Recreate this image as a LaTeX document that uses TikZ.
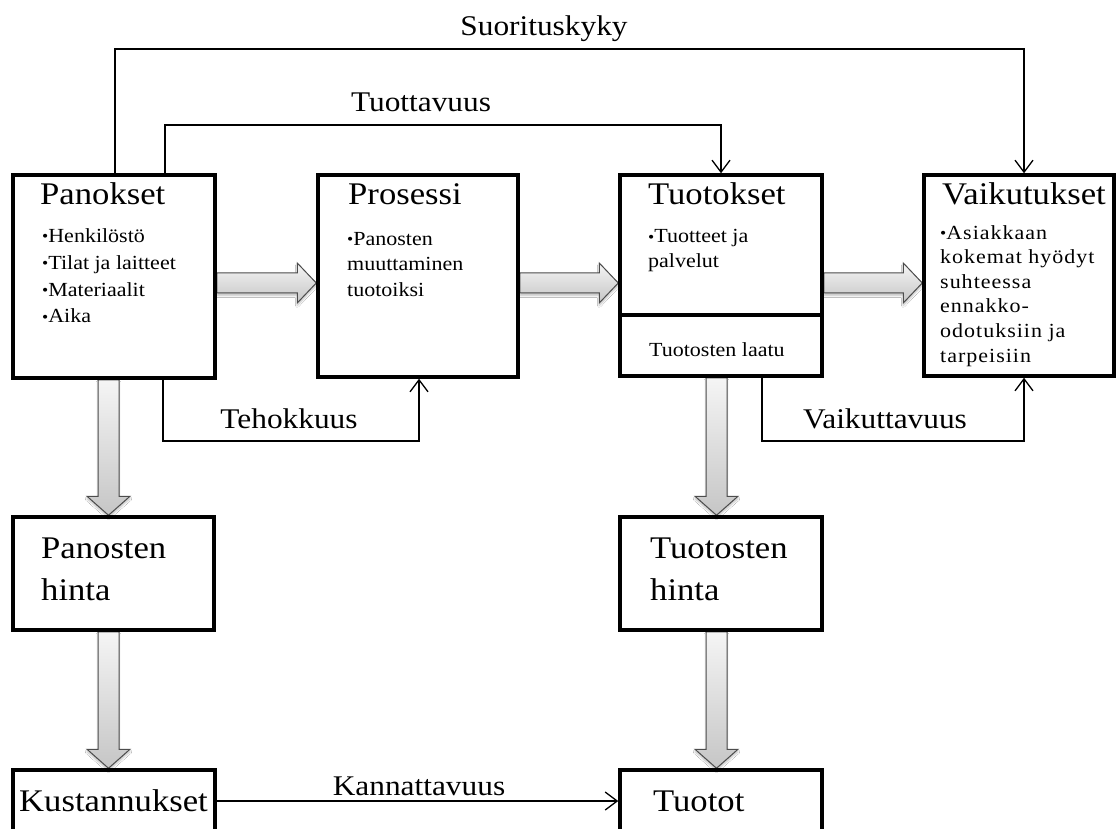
\documentclass[tikz,border=0pt]{standalone}
\usepackage{fontspec}
\usepackage{graphicx}
\setmainfont[FakeStretch=1.1]{Liberation Serif}
\newfontfamily\spacedfont[FakeStretch=1.1,LetterSpace=5]{Liberation Serif}
\usetikzlibrary{arrows.meta,calc,shadows.blur}
\pgfdeclarelayer{bg}
\pgfsetlayers{bg,main}
\newcommand{\bu}{\raisebox{0.02em}{\scalebox{0.8}{•}}}
\begin{document}
\begin{tikzpicture}[x=1pt,y=-1pt,
  box/.style={draw,line width=3.5pt,inner sep=0pt},
  title/.style={anchor=base west,inner sep=0pt,align=left,font=\fontsize{31.5}{42}\selectfont},
  body/.style={anchor=base west,inner sep=0pt,align=left,font=\fontsize{20}{26}\selectfont},
  lbl/.style={anchor=base,inner sep=0pt,font=\fontsize{28.5}{32}\selectfont},
  conn/.style={line width=1.3pt,-{Straight Barb[length=12pt,width=18pt]}},
  blk/.style={draw=black!70,line width=1pt,top color=gray!8,bottom color=gray!45,
    blur shadow={shadow xshift=0pt,shadow yshift=-2.5pt,shadow blur steps=6,shadow opacity=25}}]
\clip (0,0) rectangle (1117,829);
% boxes
\node[box,minimum width=202pt,minimum height=203pt] (pan) at (114,276.5) {};
\node[box,minimum width=200pt,minimum height=202pt] (pro) at (418,276) {};
\node[box,minimum width=202pt,minimum height=140pt] (tuo) at (721,245) {};
\node[box,minimum width=202pt,minimum height=61pt] (laatu) at (721,345.5) {};
\node[box,minimum width=190pt,minimum height=201pt] (vai) at (1019,275.5) {};
\node[box,minimum width=201pt,minimum height=113pt] (ph) at (113.5,573.5) {};
\node[box,minimum width=202pt,minimum height=113pt] (th) at (721,573.5) {};
\node[box,minimum width=202pt,minimum height=100pt] (kus) at (114,820) {};
\node[box,minimum width=202pt,minimum height=100pt] (tot) at (721,820) {};
% texts (anchor base = baseline of the last line)
\node[title] (panT) at (40,205) {Panokset};
\node[body,font=\fontsize{20}{27}\selectfont] (panB) at (42,323) {\bu Henkilöstö\\\bu Tilat ja laitteet\\\bu Materiaalit\\\bu Aika};
\node[title] (proT) at (348,205) {Prosessi};
\node[body,font=\fontsize{20}{25.5}\selectfont] (proB) at (347,296) {\bu Panosten\\muuttaminen\\tuotoiksi};
\node[title] (tuoT) at (648,205) {Tuotokset};
\node[body,font=\fontsize{20}{25}\selectfont] (tuoB) at (648,268) {\bu Tuotteet ja\\palvelut};
\node[body] (laatuT) at (649,356) {Tuotosten laatu};
\node[title] (vaiT) at (942,205) {Vaikutukset};
\node[body,font=\fontsize{20}{24.6}\selectfont\spacedfont] (vaiB) at (940,362) {\bu Asiakkaan\\kokemat hyödyt\\suhteessa\\ennakko-\\odotuksiin ja\\tarpeisiin};
\node[title] (phT) at (41,600) {Panosten\\hinta};
\node[title] (thT) at (650,600) {Tuotosten\\hinta};
\node[title] (kusT) at (19,811) {Kustannukset};
\node[title] (totT) at (653,811) {Tuotot};
% block arrows
\coordinate (hy) at (0,283);
\coordinate (vx1) at (108.5,0);
\coordinate (vx2) at (716.5,0);
\begin{pgfonlayer}{bg}
\fill[white] (0,0) rectangle (1117,829);
\foreach \a/\b in {pan/pro,pro/tuo,tuo/vai}{
\path[blk] let \p1=(\a.east |- hy), \p2=(\b.west |- hy) in
  (\x1,{\y1+10pt}) -- ({\x2-19pt},{\y1+10pt}) -- ({\x2-19pt},{\y1+20pt}) -- (\x2,\y1)
  -- ({\x2-19pt},{\y1-20pt}) -- ({\x2-19pt},{\y1-10pt}) -- (\x1,{\y1-10pt}) -- cycle;
}
\foreach \a/\b/\c in {pan/ph/vx1,ph/kus/vx1,laatu/th/vx2,th/tot/vx2}{
\path[blk] let \p1=(\a.south -| \c), \p2=(\b.north -| \c) in
  ({\x1-10.5pt},\y1) -- ({\x1-10.5pt},{\y2+19pt}) -- ({\x1-21.5pt},{\y2+19pt}) -- (\x1,\y2)
  -- ({\x1+21.5pt},{\y2+19pt}) -- ({\x1+10.5pt},{\y2+19pt}) -- ({\x1+10.5pt},\y1) -- cycle;
}
\end{pgfonlayer}
% connectors
\coordinate (sL) at (115,49); \coordinate (sR) at (1024,49);
\draw[conn] (pan.north -| sL) -- (sL) -- (sR) -- (vai.north -| sR);
\coordinate (tL) at (165,125); \coordinate (tR) at (721,125);
\draw[conn] (pan.north -| tL) -- (tL) -- (tR) -- (tuo.north -| tR);
\coordinate (eL) at (163,441); \coordinate (eR) at (419,441);
\draw[conn] (pan.south -| eL) -- (eL) -- (eR) -- (pro.south -| eR);
\coordinate (wL) at (762,441); \coordinate (wR) at (1024,441);
\draw[conn] (laatu.south -| wL) -- (wL) -- (wR) -- (vai.south -| wR);
\coordinate (ky) at (0,801);
\draw[conn] (kus.east |- ky) -- (tot.west |- ky);
% labels
\node[lbl] (lS) at (544,36) {Suorituskyky};
\node[lbl] (lT) at (421,112) {Tuottavuus};
\node[lbl] (lE) at (289,428) {Tehokkuus};
\node[lbl] (lV) at (885,428) {Vaikuttavuus};
\node[lbl] (lK) at (419,795) {Kannattavuus};
\end{tikzpicture}
\end{document}
